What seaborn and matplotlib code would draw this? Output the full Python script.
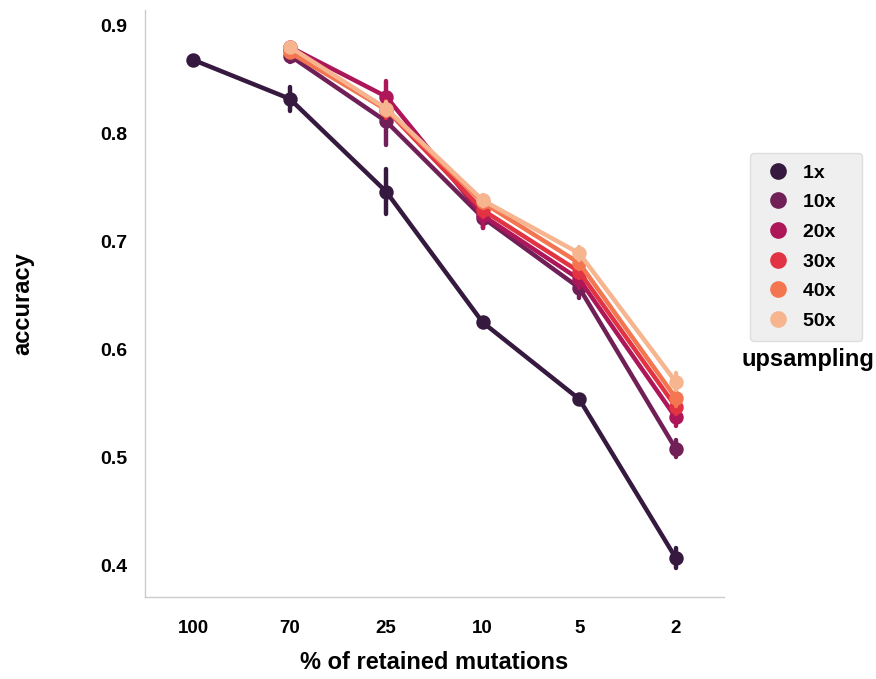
import pandas as pd
import numpy as np
import matplotlib.pyplot as plt
import seaborn as sns

retained = ['100', '70', '25', '10', '5', '2']
upsampling = ['1x', '10x', '20x', '30x', '40x', '50x']

# mean accuracy per upsampling level (None = not run)
acc_1x = [0.868, 0.832, 0.746, 0.625, 0.554, 0.407]
acc_10x = [None, 0.872, 0.811, 0.722, 0.657, 0.508]
acc_20x = [None, 0.880, 0.834, 0.724, 0.665, 0.537]
acc_30x = [None, 0.877, 0.822, 0.729, 0.672, 0.547]
acc_40x = [None, 0.875, 0.822, 0.736, 0.680, 0.555]
acc_50x = [None, 0.880, 0.823, 0.738, 0.689, 0.570]

# half width of the error bars
err_1x = [0.003, 0.011, 0.021, 0.004, 0.004, 0.009]
err_10x = [None, 0.006, 0.022, 0.010, 0.009, 0.008]
err_20x = [None, 0.004, 0.014, 0.012, 0.008, 0.008]
err_30x = [None, 0.004, 0.008, 0.006, 0.006, 0.007]
err_40x = [None, 0.004, 0.006, 0.005, 0.006, 0.007]
err_50x = [None, 0.004, 0.006, 0.005, 0.006, 0.008]

accs = [acc_1x, acc_10x, acc_20x, acc_30x, acc_40x, acc_50x]
errs = [err_1x, err_10x, err_20x, err_30x, err_40x, err_50x]

rows = []
for up, a_list, e_list in zip(upsampling, accs, errs):
    for r, a, e in zip(retained, a_list, e_list):
        if a is None:
            continue
        for v in (a - e, a, a + e):
            rows.append({'retained': r, 'upsampling': up, 'accuracy': v})
df = pd.DataFrame(rows)

sns.set_style('white')
plt.rcParams['font.family'] = ['Liberation Sans', 'DejaVu Sans']
plt.rcParams['font.weight'] = 'bold'
plt.rcParams['text.color'] = 'black'
plt.rcParams['axes.labelcolor'] = 'black'
plt.rcParams['xtick.color'] = 'black'
plt.rcParams['ytick.color'] = 'black'

fig, ax = plt.subplots(figsize=(8.76, 6.79), dpi=100)
fig.subplots_adjust(left=0.1655, right=0.8265, top=0.985, bottom=0.121)

sns.pointplot(data=df, x='retained', y='accuracy', hue='upsampling',
              order=retained, hue_order=upsampling, palette='rocket',
              estimator='mean', errorbar=lambda x: (x.min(), x.max()),
              markersize=8, linewidth=3.2, err_kws={'linewidth': 3.2},
              ax=ax)

ax.set_ylim(0.371, 0.914)
ax.set_yticks([0.4, 0.5, 0.6, 0.7, 0.8, 0.9])
ax.set_yticklabels(['0.4', '0.5', '0.6', '0.7', '0.8', '0.9'])
ax.tick_params(axis='both', length=0)
ax.tick_params(axis='y', pad=13, labelsize=14)
ax.tick_params(axis='x', pad=17, labelsize=13.5)
for lab in ax.get_xticklabels() + ax.get_yticklabels():
    lab.set_fontweight('bold')

ax.set_xlabel('% of retained mutations', fontsize=17, fontweight='bold', labelpad=10)
ax.set_ylabel('accuracy', fontsize=17, fontweight='bold', labelpad=47)

sns.despine(ax=ax)
for s in ['left', 'bottom']:
    ax.spines[s].set_color('#cccccc')
    ax.spines[s].set_linewidth(1.0)

leg = ax.legend(loc='upper left', bbox_to_anchor=(1.045, 0.756), frameon=True,
                fontsize=14, markerscale=1.2, handlelength=1.8,
                labelspacing=0.62, borderpad=0.55, handletextpad=0.35,
                borderaxespad=0)
leg.get_frame().set_facecolor('#ebebeb')
leg.get_frame().set_edgecolor('#d8d8d8')
for t in leg.get_texts():
    t.set_fontweight('bold')
    t.set_text(t.get_text() + '   ')
for h in leg.legend_handles:
    h.set_linestyle('none')

fig.text(0.922, 0.470, 'upsampling', ha='center', va='center',
         fontsize=17, fontweight='bold')

fig.savefig('out.png', dpi=100)
